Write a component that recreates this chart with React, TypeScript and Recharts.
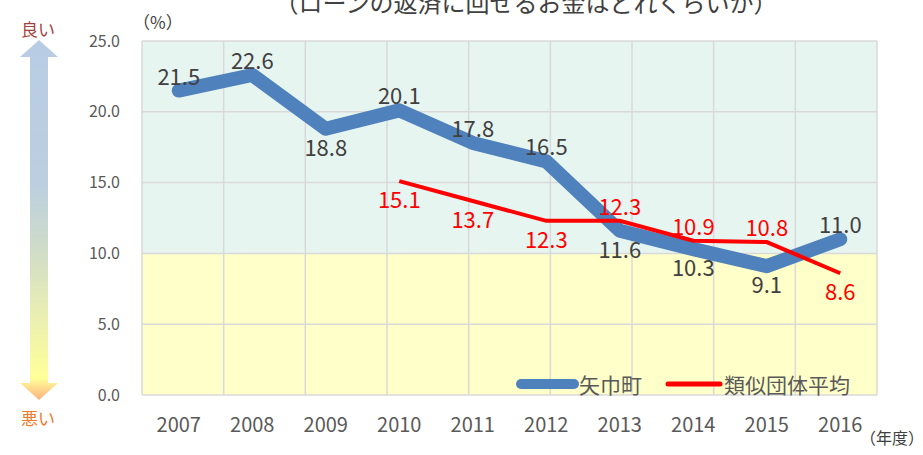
import {
	CartesianGrid,
	LabelList,
	Legend,
	Line,
	LineChart,
	XAxis,
	YAxis,
} from "recharts";

const FONT = "'Noto Sans CJK JP', 'Noto Sans', sans-serif";

const years = ["2007", "2008", "2009", "2010", "2011", "2012", "2013", "2014", "2015", "2016"];
const yahaba = [21.5, 22.6, 18.8, 20.1, 17.8, 16.5, 11.6, 10.3, 9.1, 11.0];
const ruiji = [null, null, null, 15.1, 13.7, 12.3, 12.3, 10.9, 10.8, 8.6];
// which side of the point each value label sits on
const yahabaSide = ["top", "top", "bottom", "top", "top", "top", "bottom", "bottom", "bottom", "top"];
const ruijiSide = [null, null, null, "bottom", "bottom", "bottom", "top", "top", "top", "bottom"];
const yTicks = [0, 5, 10, 15, 20, 25];
const gridTicks = [0, 1, 2, 3, 4, 5, 6, 7, 8, 9, 10];

const TEAL = "#e7f5f1";
const YELLOW = "#ffffc9";

const data = years.map((year, i) => ({
	pos: i + 0.5,
	year,
	yahaba: yahaba[i],
	ruiji: ruiji[i],
}));

const makeLabel = (sides: (string | null)[], color: string) => (props: any) => {
	const { x, y, value, index } = props;
	if (value == null || x == null || y == null) return null;
	const dy = sides[index] === "top" ? -16 : 17;
	return (
		<text
			x={x}
			y={y + dy}
			textAnchor="middle"
			dominantBaseline="central"
			fill={color}
			fontSize={22}
			fontFamily={FONT}
		>
			{Number(value).toFixed(1)}
		</text>
	);
};

const LegendContent = () => (
	<div style={{ display: "flex", alignItems: "center", fontFamily: FONT, fontSize: 21, color: "#595959" }}>
		<svg width={64} height={14}>
			<line x1={6} y1={7} x2={59} y2={7} stroke="#4f81bd" strokeWidth={10} strokeLinecap="round" />
		</svg>
		<span style={{ marginRight: 22 }}>矢巾町</span>
		<svg width={60} height={14}>
			<line x1={4} y1={7} x2={56} y2={7} stroke="#ff0000" strokeWidth={5} strokeLinecap="round" />
		</svg>
		<span>類似団体平均</span>
	</div>
);

export default function App() {
	return (
		<div style={{ position: "relative", width: 923, height: 455, background: "#fff" }}>
			<style>{"body{margin:0}"}</style>
			<LineChart
				width={923}
				height={455}
				data={data}
				margin={{ top: 41, right: 46, left: 0, bottom: 0 }}
				style={{ fontFamily: FONT }}
			>
				<CartesianGrid
					xAxisId="grid"
					stroke="#d9d9d9"
					strokeWidth={1.5}
					horizontalFill={[TEAL, TEAL, TEAL, YELLOW, YELLOW]}
					fillOpacity={1}
				/>
				<XAxis
					dataKey="pos"
					type="number"
					domain={[0, 10]}
					ticks={data.map((d) => d.pos)}
					tickFormatter={(v) => years[Math.floor(v)]}
					axisLine={false}
					tickLine={false}
					tickSize={0}
					tickMargin={23}
					height={60}
					tick={{ fill: "#595959", fontSize: 20, fontFamily: FONT }}
				/>
				<XAxis xAxisId="grid" type="number" domain={[0, 10]} ticks={gridTicks} hide />
				<YAxis
					domain={[0, 25]}
					ticks={yTicks}
					tickFormatter={(v) => Number(v).toFixed(1)}
					axisLine={false}
					tickLine={false}
					tickSize={0}
					tickMargin={22}
					width={142}
					tick={{ fill: "#595959", fontSize: 16, fontFamily: FONT }}
				/>
				<Legend
					layout="horizontal"
					verticalAlign="middle"
					align="center"
					content={<LegendContent />}
					wrapperStyle={{ top: 369, left: 515, width: 360 }}
				/>
				<Line
					dataKey="yahaba"
					name="矢巾町"
					stroke="#4f81bd"
					strokeWidth={14}
					strokeLinejoin="round"
					strokeLinecap="round"
					dot={false}
					isAnimationActive={false}
				>
					<LabelList dataKey="yahaba" content={makeLabel(yahabaSide, "#404040")} />
				</Line>
				<Line
					dataKey="ruiji"
					name="類似団体平均"
					stroke="#ff0000"
					strokeWidth={4}
					dot={false}
					isAnimationActive={false}
				>
					<LabelList dataKey="ruiji" content={makeLabel(ruijiSide, "#ff0000")} />
				</Line>
			</LineChart>
			<svg
				width={923}
				height={455}
				style={{ position: "absolute", top: 0, left: 0, pointerEvents: "none" }}
			>
				<defs>
					<linearGradient id="goodBad" x1="0" y1="0" x2="0" y2="1">
						<stop offset="0%" stopColor="#b8cce4" />
						<stop offset="40%" stopColor="#bccfe0" />
						<stop offset="58%" stopColor="#cfdcc8" />
						<stop offset="75%" stopColor="#e8edb4" />
						<stop offset="94%" stopColor="#ffff99" />
						<stop offset="100%" stopColor="#ffb080" />
					</linearGradient>
				</defs>
				<polygon
					points="39,40 58,57 48,57 48,383 58,383 39,400 20,383 30,383 30,57 20,57"
					fill="url(#goodBad)"
				/>
				<text x={38} y={36} textAnchor="middle" fontSize={17} fill="#a5413d" fontFamily={FONT}>
					良い
				</text>
				<text x={38} y={425} textAnchor="middle" fontSize={17} fill="#f07a2a" fontFamily={FONT}>
					悪い
				</text>
				<text x={526} y={12} textAnchor="middle" fontSize={24} fill="#404040" fontFamily={FONT}>
					（ローンの返済に回せるお金はどれくらいか）
				</text>
				<text x={133} y={29} fontSize={17} fill="#404040" fontFamily={FONT}>
					（%）
				</text>
				<text x={860} y={444} fontSize={16} fill="#404040" fontFamily={FONT}>
					（年度）
				</text>
			</svg>
		</div>
	);
}
